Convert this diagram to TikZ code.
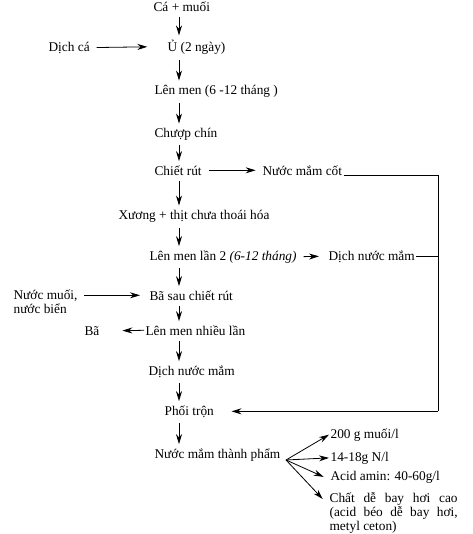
\documentclass[tikz,border=0pt]{standalone}
\usepackage{fontspec}
\setmainfont{Liberation Serif}
\usetikzlibrary{arrows.meta}
\begin{document}
\begin{tikzpicture}[x=0.75pt,y=-0.75pt,
  every node/.style={inner sep=1pt,font=\fontsize{10}{10.5}\selectfont},
  lbl/.style={anchor=mid west},
  arr/.style={-{Stealth[length=7.5pt,width=4.5pt]},line width=0.6pt},
  varr/.style={arr,shorten <=3pt,shorten >=2pt},
  ln/.style={line width=0.6pt}]
\useasboundingbox (0,0) rectangle (473,534);
\coordinate (col) at (179,0);
\node[lbl] (cm) at (152,8) {Cá + muối};
\node[lbl] (dc) at (47,48) {Dịch cá};
\node[lbl] (u) at (166,48) {Ủ (2 ngày)};
\node[lbl] (lm) at (153,91) {Lên men (6 -12 tháng )};
\node[lbl] (cc) at (153,134) {Chượp chín};
\node[lbl] (cr) at (153,172) {Chiết rút};
\node[lbl] (nmc) at (261,172) {Nước mắm cốt};
\node[lbl] (xt) at (117,216) {Xương + thịt chưa thoái hóa};
\node[lbl] (lm2) at (148,257) {Lên men lần 2 \textit{(6-12 tháng)}};
\node[lbl] (dnm) at (327,257) {Dịch nước mắm};
\node[align=left,anchor=north west] (nm) at (12,288) {Nước muối,\\nước biển};
\node[lbl] (bs) at (148,297) {Bã sau chiết rút};
\node[lbl] (lmn) at (144,332) {Lên men nhiều lần};
\node[lbl] (ba) at (83,332) {Bã};
\node[lbl] (dnm2) at (147,372) {Dịch nước mắm};
\node[lbl] (pt) at (163,412) {Phối trộn};
\node[lbl] (nmtp) at (153,455) {Nước mắm thành phẩm};
\node[lbl] (r1) at (329,435) {200 g muối/l};
\node[lbl] (r2) at (329,458) {14-18g N/l};
\node[lbl] (r3) at (329,477) {Acid amin: 40-60g/l};
\node[anchor=north west,text width=96pt,align=justify] (r4) at (328,491) {Chất dễ bay hơi cao (acid béo dễ bay hơi, metyl ceton)};
\coordinate (fan) at (286,460);
\coordinate (rx) at (438,0);
% vertical arrows
\draw[varr] (cm.south -| col) -- (u.north -| col);
\draw[varr] (u.south -| col) -- (lm.north -| col);
\draw[varr] (lm.south -| col) -- (cc.north -| col);
\draw[varr] (cc.south -| col) -- (cr.north -| col);
\draw[varr] (cr.south -| col) -- (xt.north -| col);
\draw[varr] (xt.south -| col) -- (lm2.north -| col);
\draw[varr] (lm2.south -| col) -- (bs.north -| col);
\draw[varr] (bs.south -| col) -- (lmn.north -| col);
\draw[varr] (lmn.south -| col) -- (dnm2.north -| col);
\draw[varr] (dnm2.south -| col) -- (pt.north -| col);
\draw[varr] (pt.south -| col) -- (nmtp.north -| col);
% horizontal arrows
\draw[arr] ([xshift=4]dc.east) -- ([xshift=-14]u.west);
\draw[arr] ([xshift=4]cr.east) -- ([xshift=-4]nmc.west);
\draw[arr] ([xshift=4]lm2.east) -- ([xshift=-6]dnm.west);
\draw[arr] ([xshift=4]nm.east |- bs.west) -- ([xshift=-6]bs.west);
\draw[arr] (lmn.west) -- ([xshift=16]ba.east);
% feedback lines
\draw[ln] (nmc.base east) -- (nmc.base east -| rx) -- (pt.east -| rx);
\draw[ln] (dnm.east) -- (dnm.east -| rx);
\draw[arr] (pt.east -| rx) -- ([xshift=12]pt.east);
% fan
\draw[arr] (fan) -- (r1.west);
\draw[arr] (fan) -- (r2.west);
\draw[arr] (fan) -- ([xshift=-4]r3.west);
\draw[arr] (fan) -- ([xshift=-4,yshift=-6]r4.north west);
\end{tikzpicture}
\end{document}
